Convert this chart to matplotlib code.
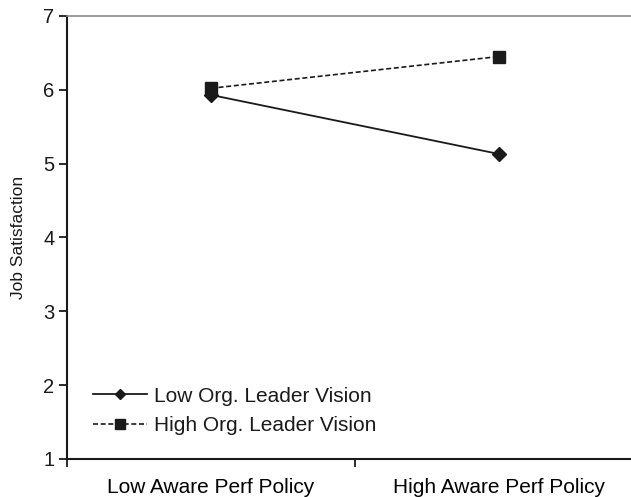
import matplotlib
matplotlib.use("Agg")
import matplotlib.pyplot as plt

categories = ["Low Aware Perf Policy", "High Aware Perf Policy"]
low_vision = [5.93, 5.13]
high_vision = [6.02, 6.45]
series_names = ["Low Org. Leader Vision", "High Org. Leader Vision"]
y_ticks = [1, 2, 3, 4, 5, 6, 7]

plt.rcParams["font.family"] = ["Liberation Sans", "DejaVu Sans"]

fig = plt.figure(figsize=(6.31, 4.97), dpi=100)
ax = fig.add_axes([0.106, 0.0765, 0.913, 0.8915])

xpos = [i + 0.5 for i in range(len(categories))]
ax.plot(xpos, low_vision, color="#1a1a1a", lw=1.3, marker="D", ms=7,
        label=series_names[0])
ax.plot(xpos, high_vision, color="#1a1a1a", lw=1.2, ls=(0, (3, 1.6)),
        marker="s", ms=8, label=series_names[1])

ax.set_xlim(0, len(categories))
ax.set_ylim(1, 7)
ax.set_yticks(y_ticks)
ax.set_yticklabels([str(v) for v in y_ticks], fontsize=14.5)
ax.set_xticks(range(len(categories) + 1))
ax.set_xticklabels([])
ax.set_xticks(xpos, minor=True)
ax.set_xticklabels(categories, minor=True, fontsize=15)
ax.tick_params(axis="x", which="minor", length=0, pad=13.5)
ax.tick_params(axis="x", which="major", length=6, width=1.3, direction="out",
               color="#1a1a1a")
ax.tick_params(axis="y", length=6, width=1.3, direction="out", pad=3,
               color="#1a1a1a")
ax.tick_params(axis="both", labelcolor="#1a1a1a")

for side in ("left", "bottom"):
    ax.spines[side].set_linewidth(1.5)
    ax.spines[side].set_color("#1a1a1a")
ax.spines["top"].set_color("#8a8a8a")
ax.spines["top"].set_linewidth(1.2)
ax.spines["right"].set_visible(False)

ax.set_ylabel("Job Satisfaction", fontsize=12.5, color="#1a1a1a", labelpad=12)

leg = ax.legend(loc="lower left", bbox_to_anchor=(0.03, 0.035), frameon=False,
                fontsize=15, handlelength=2.6, handletextpad=0.35,
                labelspacing=0.5, borderaxespad=0)
for t in leg.get_texts():
    t.set_color("#1a1a1a")
leg_sizes = [5.5, 7]
for h, s in zip(leg.get_lines(), leg_sizes):
    h.set_markersize(s)

fig.savefig("out.png", dpi=100)
